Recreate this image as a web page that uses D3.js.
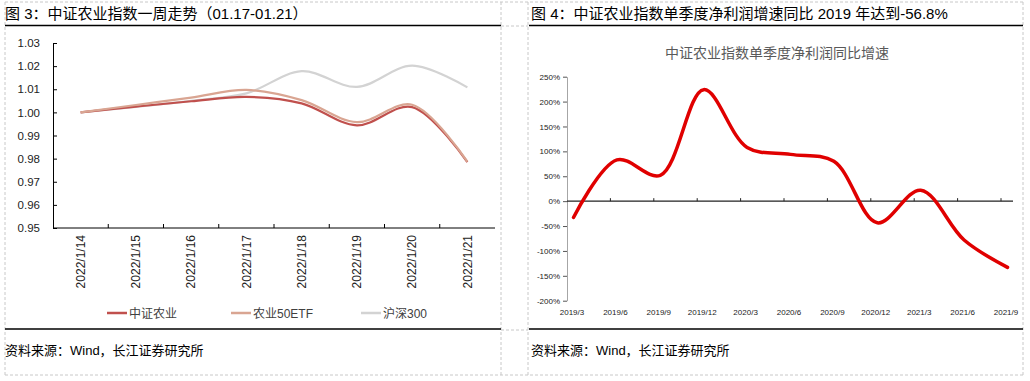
<!DOCTYPE html>
<html>
<head>
<meta charset="utf-8">
<script src="https://cdn.jsdelivr.net/npm/d3@7"></script>
<style>
body { margin: 0; background: #fff; }
svg { display: block; font-family: "Liberation Sans", Arial, "Noto Sans CJK SC", sans-serif; }
.cn { font-family: "Liberation Sans", "Noto Sans CJK SC", sans-serif; }
</style>
</head>
<body>
<script>
// left chart data
var dates = ["2022/1/14","2022/1/15","2022/1/16","2022/1/17","2022/1/18","2022/1/19","2022/1/20","2022/1/21"];
var agriIndex = [1.000, 1.0025, 1.0048, 1.0067, 1.0039, 0.9944, 1.0023, 0.9785];
var agriEtf   = [1.000, 1.0032, 1.0064, 1.0097, 1.0053, 0.9958, 1.0033, 0.9787];
var hs300     = [1.000, 1.0024, 1.0050, 1.0082, 1.0178, 1.0110, 1.0202, 1.0108];
var leftTicks = [0.95, 0.96, 0.97, 0.98, 0.99, 1.00, 1.01, 1.02, 1.03];
var seriesNames = ["中证农业", "农业50ETF", "沪深300"];

// right chart data
var quarters = ["2019/3","2019/6","2019/9","2019/12","2020/3","2020/6","2020/9","2020/12","2021/3","2021/6","2021/9"];
var profitGrowth = [-32.7, 83, 52, 224, 108, 94, 80, -43.5, 22, -78, -133];
var rightTicks = [-200, -150, -100, -50, 0, 50, 100, 150, 200, 250];

var W = 1030, H = 381;
var svg = d3.select("body").append("svg").attr("width", W).attr("height", H);

// panel frames (dashed table cells)
var dash = svg.append("g").attr("stroke", "#c8c8c8").attr("stroke-dasharray", "3,2").attr("fill", "none");
dash.append("line").attr("x1", 5).attr("x2", 1023).attr("y1", 2).attr("y2", 2);
dash.append("line").attr("x1", 5).attr("x2", 1023).attr("y1", 375).attr("y2", 375);
dash.append("line").attr("x1", 5).attr("x2", 5).attr("y1", 2).attr("y2", 375);
dash.append("line").attr("x1", 501).attr("x2", 501).attr("y1", 2).attr("y2", 375);
dash.append("line").attr("x1", 528).attr("x2", 528).attr("y1", 2).attr("y2", 375);
dash.append("line").attr("x1", 1023).attr("x2", 1023).attr("y1", 2).attr("y2", 375);
dash.append("line").attr("x1", 501).attr("x2", 528).attr("y1", 26).attr("y2", 26);
dash.append("line").attr("x1", 501).attr("x2", 528).attr("y1", 330).attr("y2", 330);

// titles and rules
svg.append("text").attr("class", "cn").attr("x", 5).attr("y", 19).attr("font-size", 15).attr("fill", "#000")
   .text("图 3：中证农业指数一周走势（01.17-01.21）");
svg.append("text").attr("class", "cn").attr("x", 531).attr("y", 19).attr("font-size", 15).attr("fill", "#000")
   .text("图 4：中证农业指数单季度净利润增速同比 2019 年达到-56.8%");
svg.append("line").attr("x1", 5).attr("x2", 501).attr("y1", 25.5).attr("y2", 25.5).attr("stroke", "#000").attr("stroke-width", 1.5);
svg.append("line").attr("x1", 529).attr("x2", 1023).attr("y1", 25.5).attr("y2", 25.5).attr("stroke", "#000").attr("stroke-width", 1.5);
svg.append("line").attr("x1", 5).attr("x2", 501).attr("y1", 329).attr("y2", 329).attr("stroke", "#000").attr("stroke-width", 1.5);
svg.append("line").attr("x1", 529).attr("x2", 1023).attr("y1", 329).attr("y2", 329).attr("stroke", "#000").attr("stroke-width", 1.5);
svg.append("text").attr("class", "cn").attr("x", 5).attr("y", 355).attr("font-size", 13).attr("fill", "#000")
   .text("资料来源：Wind，长江证券研究所");
svg.append("text").attr("class", "cn").attr("x", 531).attr("y", 355).attr("font-size", 13).attr("fill", "#000")
   .text("资料来源：Wind，长江证券研究所");

//left chart
var x1 = d3.scaleBand().domain(dates).range([53, 495]);
var y1 = d3.scaleLinear().domain([0.95, 1.03]).range([228, 43]);
var g1 = svg.append("g");

var yAx1 = g1.append("g").attr("transform", "translate(53,0)")
   .call(d3.axisLeft(y1).tickValues(leftTicks).tickFormat(d3.format(".2f")).tickSizeInner(-4).tickSizeOuter(0).tickPadding(13));
yAx1.select(".domain").attr("stroke", "#000");
yAx1.selectAll("line").attr("stroke", "#000");
yAx1.selectAll("text").attr("font-size", 11.5).attr("fill", "#222");

var xAx1 = g1.append("g").attr("transform", "translate(0,228)")
   .call(d3.axisBottom(x1).tickSize(0).tickPadding(0));
xAx1.select(".domain").attr("stroke", "#000").attr("d", "M53,0H495");
xAx1.selectAll("text").attr("font-size", 12).attr("fill", "#222")
   .attr("transform", "rotate(-90)").attr("text-anchor", "end").attr("x", -7).attr("y", 0).attr("dy", "0.35em");
g1.selectAll(".xt1").data(dates.slice(1)).enter().append("line")
   .attr("x1", function(d){ return x1(d); }).attr("x2", function(d){ return x1(d); })
   .attr("y1", 228).attr("y2", 224).attr("stroke", "#000");

// drawn gray first so the red lines sit on top
var leftSeries = [
  {name: seriesNames[2], values: hs300, color: "#d3d3d3"},
  {name: seriesNames[0], values: agriIndex, color: "#c0504d"},
  {name: seriesNames[1], values: agriEtf, color: "#d9a592"}
];
var line1 = d3.line()
   .x(function(d, i){ return x1(dates[i]) + x1.bandwidth() / 2; })
   .y(function(d){ return y1(d); })
   .curve(d3.curveCatmullRom.alpha(0.5));
g1.selectAll(".s1").data(leftSeries).enter().append("path")
   .attr("d", function(d){ return line1(d.values); })
   .attr("fill", "none").attr("stroke", function(d){ return d.color; }).attr("stroke-width", 2.2);

var legendItems = [leftSeries[1], leftSeries[2], leftSeries[0]];
var legX = [107, 231, 361];
var legend = g1.selectAll(".legends").data(legendItems).enter().append("g")
   .attr("transform", function(d, i){ return "translate(" + legX[i] + ",313)"; });
legend.append("line").attr("x1", 0).attr("x2", 20).attr("stroke", function(d){ return d.color; }).attr("stroke-width", 2.5);
legend.append("text").attr("class", "cn").attr("x", 22).attr("y", 4.5).attr("font-size", 12).attr("fill", "#404040")
   .text(function(d){ return d.name; });

//right chart
var x2 = d3.scaleBand().domain(quarters).range([567, 567 + 11 * 43.4]);
var y2 = d3.scaleLinear().domain([-200, 250]).range([300.7, 76.7]);
var g2 = svg.append("g");

g2.append("text").attr("class", "cn").attr("x", 777).attr("y", 58).attr("text-anchor", "middle")
   .attr("font-size", 14).attr("fill", "#595959").text("中证农业指数单季度净利润同比增速");

var yAx2 = g2.append("g").attr("transform", "translate(567,0)")
   .call(d3.axisLeft(y2).tickValues(rightTicks).tickFormat(function(d){ return d + "%"; }).tickSizeInner(4).tickSizeOuter(0).tickPadding(3));
yAx2.select(".domain").attr("stroke", "#a6a6a6");
yAx2.selectAll("line").attr("stroke", "#555");
yAx2.selectAll("text").attr("font-size", 8).attr("fill", "#222");

g2.append("line").attr("x1", 567).attr("x2", 1013).attr("y1", y2(0)).attr("y2", y2(0)).attr("stroke", "#222").attr("stroke-width", 1.2);
g2.selectAll(".xt2").data(quarters.slice(1)).enter().append("line")
   .attr("x1", function(d){ return x2(d); }).attr("x2", function(d){ return x2(d); })
   .attr("y1", y2(0)).attr("y2", y2(0) - 3).attr("stroke", "#222");
g2.selectAll(".xl2").data(quarters).enter().append("text")
   .attr("x", function(d){ return x2(d) + 5; }).attr("y", 315).attr("text-anchor", "middle")
   .attr("font-size", 8).attr("fill", "#222").text(function(d){ return d; });

var line2 = d3.line()
   .x(function(d, i){ return x2(quarters[i]) + 6.5; })
   .y(function(d){ return y2(d); })
   .curve(d3.curveCatmullRom.alpha(0.5));
g2.append("path").attr("d", line2(profitGrowth)).attr("fill", "none")
   .attr("stroke", "#e00000").attr("stroke-width", 3.5).attr("stroke-linecap", "round");
</script>
</body>
</html>
